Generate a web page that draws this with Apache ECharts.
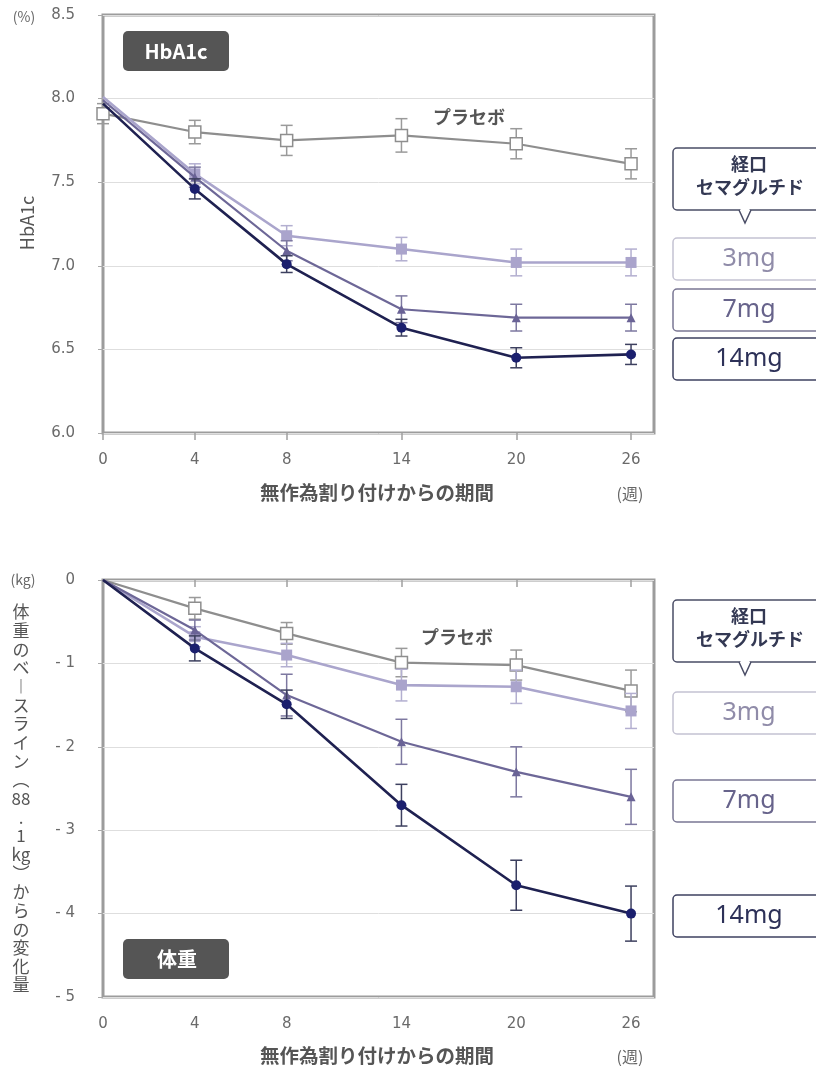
<!DOCTYPE html>
<html><head><meta charset="utf-8">
<script src="https://cdn.jsdelivr.net/npm/echarts@6/dist/echarts.min.js"></script>
<style>html,body{margin:0;padding:0;background:#fff}#c{width:816px;height:1066px}</style>
</head><body><div id="c"></div>
<script>
// ---- data ----
const weeks = [0, 4, 8, 14, 20, 26];
const weekLabels = ['0', '4', '8', '14', '20', '26'];
const seriesNames = ['プラセボ', '3mg', '7mg', '14mg'];

const hbPlacebo    = [7.91, 7.80, 7.75, 7.78, 7.73, 7.61];
const hbPlaceboErr = [0.06, 0.07, 0.09, 0.10, 0.09, 0.09];
const hb3          = [8.01, 7.55, 7.18, 7.10, 7.02, 7.02];
const hb3Err       = [0, 0.06, 0.06, 0.07, 0.08, 0.08];
const hb7          = [7.99, 7.53, 7.09, 6.74, 6.69, 6.69];
const hb7Err       = [0, 0.06, 0.06, 0.08, 0.08, 0.08];
const hb14         = [7.97, 7.46, 7.01, 6.63, 6.45, 6.47];
const hb14Err      = [0, 0.06, 0.05, 0.05, 0.06, 0.06];

const wtPlacebo    = [0, -0.34, -0.64, -0.99, -1.02, -1.33];
const wtPlaceboErr = [0, 0.13, 0.13, 0.17, 0.18, 0.25];
const wt3          = [0, -0.68, -0.90, -1.26, -1.28, -1.57];
const wt3Err       = [0, 0.12, 0.14, 0.19, 0.20, 0.21];
const wt7          = [0, -0.60, -1.38, -1.94, -2.30, -2.60];
const wt7Err       = [0, 0.12, 0.25, 0.27, 0.30, 0.33];
const wt14         = [0, -0.82, -1.49, -2.70, -3.66, -4.00];
const wt14Err      = [0, 0.15, 0.17, 0.25, 0.30, 0.33];

const hbTicks = [6.0, 6.5, 7.0, 7.5, 8.0, 8.5];
const wtTicks = [-5, -4, -3, -2, -1, 0];

// ---- broken time scale: 4-week steps up to week 8, then 6-week steps ----
function slot(w) { return w <= 8 ? w / 4 : 2 + (w - 8) / 6 * 1.25; }
const slots = weeks.map(slot);
function weekLabel(v) {
  for (let i = 0; i < slots.length; i++) if (Math.abs(slots[i] - v) < 1e-6) return weekLabels[i];
  return '';
}

const FONT = '"Noto Sans CJK JP", "Noto Sans", sans-serif';
const NUMFONT = '"DejaVu Sans", "Noto Sans", sans-serif';
const styles = [
  { line: '#8e8e8e', sym: 'rect', size: 12, fill: '#ffffff', border: '#8e8e8e', err: '#9a9a9a', lw: 2.2 },
  { line: '#aaa5cc', sym: 'rect', size: 11, fill: '#aaa4cc', border: '#aaa4cc', err: '#b3afd0', lw: 2.6 },
  { line: '#6d6797', sym: 'triangle', size: 9, fill: '#6a6396', border: '#6a6396', err: '#7d78a0', lw: 2.2 },
  { line: '#1f2151', sym: 'circle', size: 10, fill: '#1b1f6e', border: '#1b1f6e', err: '#3d405f', lw: 2.6 }
];

function errRenderer(color) {
  return function (params, api) {
    const x = api.value(0), lo = api.value(1), hi = api.value(2);
    const p1 = api.coord([x, hi]), p2 = api.coord([x, lo]);
    const w = 6;
    const st = { stroke: color, lineWidth: 1.5 };
    return {
      type: 'group', children: [
        { type: 'line', shape: { x1: p1[0], y1: p1[1], x2: p2[0], y2: p2[1] }, style: st },
        { type: 'line', shape: { x1: p1[0] - w, y1: p1[1], x2: p1[0] + w, y2: p1[1] }, style: st },
        { type: 'line', shape: { x1: p2[0] - w, y1: p2[1], x2: p2[0] + w, y2: p2[1] }, style: st }
      ]
    };
  };
}

function buildSeries(gi, vals, errs, hideFirst) {
  const out = [];
  vals.forEach((arr, k) => {
    const s = styles[k];
    const errData = [];
    arr.forEach((v, i) => { if (errs[k][i] > 0) errData.push([slots[i], v - errs[k][i], v + errs[k][i]]); });
    out.push({
      type: 'custom', name: seriesNames[k] + '_err', xAxisIndex: gi, yAxisIndex: gi,
      renderItem: errRenderer(s.err), data: errData, encode: { x: 0, y: [1, 2] }, z: 2 + k * 2, clip: false, silent: true
    });
    out.push({
      type: 'line', name: seriesNames[k], xAxisIndex: gi, yAxisIndex: gi,
      data: arr.map((v, i) => (hideFirst[k] && i === 0) ? { value: [slots[i], v], symbol: 'none' } : [slots[i], v]),
      symbol: s.sym, symbolSize: s.size, showAllSymbol: true,
      lineStyle: { color: s.line, width: s.lw },
      itemStyle: { color: s.fill, borderColor: s.border, borderWidth: k === 0 ? 1.5 : 0 },
      z: 3 + k * 2, clip: false, animation: false, silent: true
    });
  });
  return out;
}

const grids = [
  { left: 103, top: 15, width: 551, height: 418 },
  { left: 103, top: 580, width: 551, height: 417 }
].map(g => Object.assign(g, { show: true, borderColor: '#9c9c9c', borderWidth: 3, backgroundColor: 'transparent' }));

function xAxis(gi) {
  return {
    gridIndex: gi, type: 'value', min: 0, max: 6,
    axisLine: { show: false }, splitLine: { show: false },
    axisTick: { show: true, customValues: slots, length: 7, lineStyle: { color: '#a0a0a0', width: 1.5 } },
    axisLabel: { customValues: slots, formatter: weekLabel, color: '#6a6a6a', fontSize: 15, margin: 20, fontFamily: NUMFONT }
  };
}
function yAxis(gi, ticks, fmt) {
  return {
    gridIndex: gi, type: 'value', min: ticks[0], max: ticks[ticks.length - 1], interval: ticks[1] - ticks[0],
    axisLine: { show: false },
    axisTick: { show: true, length: 5, lineStyle: { color: '#aaa' } },
    splitLine: { show: true, lineStyle: { color: '#dedede', width: 1 } },
    axisLabel: { formatter: fmt, color: '#6a6a6a', fontSize: 15, margin: 28, fontFamily: NUMFONT }
  };
}

function txt(x, y, text, o) {
  return { type: 'text', x: x, y: y, silent: true, z: 50, style: Object.assign({ text: text, fontFamily: FONT, align: 'center', verticalAlign: 'middle' }, o || {}) };
}
function rect(x, y, w, h, fill, stroke, lw, r) {
  return { type: 'rect', silent: true, z: 40, shape: { x: x, y: y, width: w, height: h, r: r }, style: { fill: fill, stroke: stroke, lineWidth: lw } };
}
function legendBlock(top, boxes) {
  const g = [];
  g.push(rect(673, top, 170, 62, '#fff', '#4a4d66', 1.5, 4));
  g.push({ type: 'polyline', silent: true, z: 41, shape: { points: [[739, top + 62], [745, top + 75], [751, top + 62]] }, style: { stroke: '#4a4d66', lineWidth: 1.5, fill: '#fff' } });
  g.push({ type: 'line', silent: true, z: 42, shape: { x1: 740.5, y1: top + 62, x2: 749.5, y2: top + 62 }, style: { stroke: '#fff', lineWidth: 2 } });
  g.push(txt(749, top + 16, '経口', { fontSize: 18, fontWeight: 'bold', fill: '#333853' }));
  g.push(txt(750, top + 39, 'セマグルチド', { fontSize: 18, fontWeight: 'bold', fill: '#333853' }));
  const cols = [['#c4c2d2', '#908ca9'], ['#7a7794', '#67638b'], ['#3e4160', '#2d3158']];
  boxes.forEach((b, i) => {
    g.push(rect(673, b, 170, 42, '#fff', cols[i][0], 1.5, 4));
    g.push(txt(749, b + 21, seriesNames[i + 1], { fontSize: 25, fill: cols[i][1], fontFamily: '"Noto Sans", sans-serif' }));
  });
  return g;
}

const vertLabel = ['体', '重', 'の', 'ベ', '︱', 'ス', 'ラ', 'イ', 'ン', '︵', '88', '.', '1', 'kg', '︶', 'か', 'ら', 'の', '変', '化', '量'].join('\n');

const graphics = [
  // top chart
  txt(24, 17, '(%)', { fontSize: 14, fill: '#666' }),
  { type: 'text', x: 27, y: 223, rotation: Math.PI / 2, silent: true, z: 50, style: { text: 'HbA1c', fontFamily: FONT, fontSize: 18, fill: '#555', align: 'center', verticalAlign: 'middle' } },
  rect(123, 31, 106, 40, '#555555', null, 0, 5),
  txt(176, 51, 'HbA1c', { fontSize: 20, fontWeight: 'bold', fill: '#fff' }),
  txt(469, 117, 'プラセボ', { fontSize: 18, fontWeight: 'bold', fill: '#555' }),
  txt(377, 493, '無作為割り付けからの期間', { fontSize: 19.5, fontWeight: 'bold', fill: '#555' }),
  txt(630, 494, '(週)', { fontSize: 16, fill: '#666' }),
  // bottom chart
  txt(23, 580, '(kg)', { fontSize: 14, fill: '#666' }),
  { type: 'text', x: 21, y: 798.5, silent: true, z: 50, style: { text: vertLabel, fontFamily: FONT, fontSize: 17, lineHeight: 18.65, fill: '#555', align: 'center', verticalAlign: 'middle' } },
  rect(123, 939, 106, 40, '#555555', null, 0, 5),
  txt(177, 959, '体重', { fontSize: 20, fontWeight: 'bold', fill: '#fff' }),
  txt(457, 637, 'プラセボ', { fontSize: 18, fontWeight: 'bold', fill: '#555' }),
  txt(377, 1056, '無作為割り付けからの期間', { fontSize: 19.5, fontWeight: 'bold', fill: '#555' }),
  txt(630, 1057, '(週)', { fontSize: 16, fill: '#666' })
].concat(legendBlock(148, [238, 289, 338])).concat(legendBlock(600, [692, 780, 895]));

const series = []
  .concat(buildSeries(0, [hbPlacebo, hb3, hb7, hb14], [hbPlaceboErr, hb3Err, hb7Err, hb14Err], [false, true, true, true]))
  .concat(buildSeries(1, [wtPlacebo, wt3, wt7, wt14], [wtPlaceboErr, wt3Err, wt7Err, wt14Err], [true, true, true, true]));

const chart = echarts.init(document.getElementById('c'), null, { renderer: 'canvas' });
chart.setOption({
  animation: false,
  backgroundColor: '#fff',
  textStyle: { fontFamily: FONT },
  grid: grids,
  xAxis: [xAxis(0), xAxis(1)],
  yAxis: [
    yAxis(0, hbTicks, v => v.toFixed(1)),
    yAxis(1, wtTicks, v => v === 0 ? '0' : '- ' + Math.abs(v))
  ],
  series: series,
  graphic: graphics
});
</script>
</body></html>
